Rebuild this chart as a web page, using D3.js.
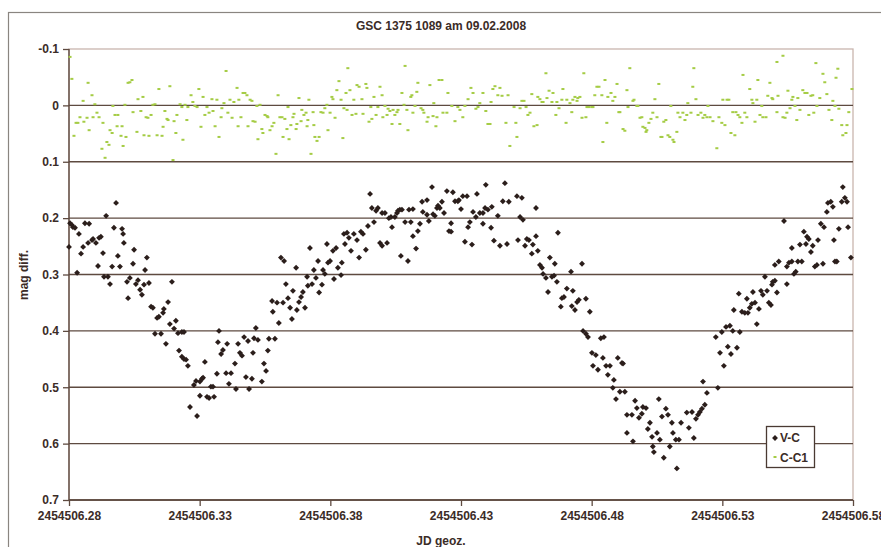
<!DOCTYPE html>
<html><head><meta charset="utf-8">
<script src="https://cdn.jsdelivr.net/npm/d3@7"></script>
<style>
html,body{margin:0;padding:0;background:#fff;}
svg{display:block;font-family:"Liberation Sans",Arial,sans-serif;}
</style></head>
<body>
<svg id="chart" width="881" height="547"></svg>
<script>
const title = "GSC 1375 1089 am 09.02.2008";
const xLabel = "JD geoz.";
const yLabel = "mag diff.";
const seriesNames = ["V-C", "C-C1"];
const jdBase = 2454506;
const xTicks = [0.28, 0.33, 0.38, 0.43, 0.48, 0.53, 0.58];
const yTicks = [-0.1, 0, 0.1, 0.2, 0.3, 0.4, 0.5, 0.6, 0.7];
const yTickLabels = ["-0.1", "0", "0.1", "0.2", "0.3", "0.4", "0.5", "0.6", "0.7"];

// V-C : JD fraction (add jdBase) and magnitude difference
const vcJD = [
0.2800,0.2804,0.2811,0.2815,0.2823,0.2831,0.2838,0.2846,0.2854,0.2861,0.2877,0.2873,0.2888,0.2892,0.2903,0.2911,0.2915,0.2922,0.2930,0.2934,
0.2949,0.2942,0.2957,0.2965,0.2972,0.2980,0.2987,0.2995,0.3003,0.3007,0.3010,0.3022,0.3026,0.3033,0.3045,0.3049,0.3056,0.3064,0.3072,0.3079,
0.3087,0.3091,0.3098,0.3106,0.3114,0.3121,0.3129,0.3137,0.3144,0.3152,0.3160,0.3163,0.3171,0.3179,0.3186,0.3194,0.3202,0.3209,0.3217,0.3221,
0.3232,0.3240,0.3232,0.3240,0.3248,0.3255,0.3263,0.3278,0.3290,0.3286,0.3301,0.3309,0.3313,0.3301,0.3320,0.3328,0.3336,0.3343,0.3351,0.3355,
0.3366,0.3370,0.3374,0.3382,0.3389,0.3401,0.3405,0.3412,0.3420,0.3435,0.3439,0.3447,0.3454,0.3462,0.3470,0.3477,0.3485,0.3489,0.3500,0.3504,
0.3508,0.3515,0.3523,0.3538,0.3546,0.3554,0.3561,0.3565,0.3588,
0.3577,0.3580,0.3596,0.3603,0.3611,0.3623,0.3619,0.3630,0.3638,0.3646,0.3653,0.3657,0.3669,0.3672,0.3680,0.3688,0.3695,0.3703,0.3711,0.3714,
0.3730,0.3722,0.3737,0.3745,0.3753,0.3757,0.3768,0.3772,0.3779,0.3787,0.3791,0.3799,0.3810,0.3814,0.3822,0.3829,0.3841,0.3844,0.3856,0.3852,
0.3864,0.3871,0.3879,0.3890,0.3902,0.3910,0.3917,0.3925,0.3936,0.3944,0.3952,0.3959,0.3967,0.3975,0.3982,0.3990,0.3998,0.3998,0.4009,0.4017,
0.4024,0.4032,0.4036,0.4047,0.4055,0.4059,0.4066,0.4074,0.4070,0.4086,0.4097,0.4101,0.4116,0.4108,0.4116,0.4128,0.4135,0.4143,0.4151,0.4154,
0.4170,0.4170,0.4177,0.4189,0.4193,0.4200,0.4208,0.4212,0.4219,0.4227,0.4235,0.4246,0.4254,0.4262,0.4262,0.4269,0.4277,0.4288,0.4292,0.4300,
0.4307,0.4323,0.4315,0.4327,0.4334,0.4342,0.4346,
0.4357,0.4361,0.4372,0.4384,0.4384,0.4395,0.4392,0.4403,0.4418,0.4415,0.4426,0.4441,0.4449,0.4460,0.4468,0.4476,0.4483,0.4514,0.4533,0.4518,
0.4526,0.4537,0.4545,0.4552,0.4560,0.4571,0.4575,0.4587,0.4587,0.4594,0.4602,0.4610,0.4614,0.4625,0.4633,0.4640,0.4648,0.4656,0.4659,0.4667,
0.4671,0.4682,0.4686,0.4694,0.4705,0.4721,0.4724,0.4728,0.4736,0.4744,0.4751,0.4763,0.4778,0.4793,0.4767,0.4778,0.4786,0.4835,0.4847,0.4801,
0.4816,0.4843,0.4900,0.4916,0.4920,0.4805,0.4824,0.4855,0.4870,0.4862,0.4885,0.4881,0.4893,0.4908,0.4927,0.4935,0.4954,0.4935,0.4958,0.4966,
0.4973,0.4981,0.4992,0.4996,0.5008,0.5015,0.5023,0.5031,0.5034,0.5038,0.5050,0.5057,0.5061,0.5069,0.5076,0.5084,0.5092,0.5099,0.5107,0.5111,
0.5122,0.5134,0.5126,0.5142,0.5164,0.5172,0.5184,0.5191,0.5199,0.5207,0.5214,0.5222,0.5226,0.5233,0.5241,
0.5283,0.5275,0.5291,0.5298,0.5306,0.5314,0.5329,0.5321,0.5333,0.5340,0.5344,0.5356,0.5363,0.5367,0.5375,0.5386,0.5394,0.5398,0.5405,0.5413,
0.5425,0.5417,0.5432,0.5440,0.5448,0.5455,0.5463,0.5471,0.5478,0.5486,0.5490,0.5493,0.5501,0.5509,0.5501,0.5516,0.5536,0.5547,0.5555,0.5566,
0.5547,0.5566,0.5574,0.5581,0.5589,0.5604,0.5597,0.5612,0.5620,0.5624,0.5631,0.5639,0.5646,0.5654,0.5662,0.5666,0.5677,0.5689,0.5685,0.5700,
0.5704,0.5715,0.5723,0.5727,0.5731,0.5738,0.5746,0.5757,0.5761,0.5769,0.5777,0.5781,0.5792
];
const vcMag = [
0.251,0.209,0.212,0.216,0.217,0.297,0.228,0.263,0.251,0.209,0.210,0.244,0.239,0.237,0.244,0.285,0.235,0.233,0.262,0.304,
0.304,0.196,0.317,0.286,0.217,0.173,0.267,0.286,0.219,0.228,0.244,0.313,0.342,0.306,0.281,0.256,0.317,0.310,0.327,0.336,
0.318,0.292,0.270,0.315,0.357,0.359,0.405,0.377,0.375,0.405,0.368,0.361,0.423,0.349,0.388,0.313,0.396,0.382,0.404,0.435,
0.402,0.402,0.446,0.450,0.451,0.462,0.535,0.496,0.551,0.489,0.490,0.485,0.483,0.515,0.455,0.517,0.519,0.499,0.499,0.517,
0.476,0.420,0.400,0.441,0.434,0.475,0.423,0.494,0.475,0.458,0.503,0.423,0.439,0.444,0.411,0.482,0.418,0.503,0.485,0.439,
0.413,0.395,0.416,0.490,0.458,0.471,0.435,0.414,0.414,
0.347,0.366,0.350,0.386,0.270,0.276,0.350,0.317,0.342,0.359,0.379,0.329,0.288,0.363,0.349,0.340,0.331,0.359,0.304,0.320,
0.317,0.253,0.292,0.306,0.276,0.332,0.318,0.292,0.299,0.246,0.279,0.276,0.258,0.308,0.253,0.288,0.301,0.279,0.246,0.228,
0.226,0.235,0.258,0.228,0.239,0.270,0.224,0.228,0.256,0.214,0.157,0.182,0.207,0.187,0.182,0.244,0.249,0.191,0.191,0.244,
0.200,0.198,0.216,0.198,0.191,0.187,0.185,0.185,0.267,0.207,0.276,0.185,0.184,0.207,0.232,0.254,0.223,0.210,0.171,0.189,
0.194,0.168,0.205,0.145,0.193,0.196,0.182,0.178,0.182,0.171,0.191,0.152,0.223,0.224,0.209,0.154,0.170,0.170,0.168,0.184,
0.161,0.161,0.242,0.216,0.207,0.247,0.189,
0.198,0.157,0.191,0.191,0.210,0.141,0.182,0.185,0.180,0.217,0.240,0.196,0.249,0.170,0.138,0.246,0.171,0.161,0.164,0.239,
0.198,0.203,0.249,0.237,0.239,0.263,0.247,0.182,0.232,0.258,0.283,0.288,0.299,0.306,0.331,0.270,0.304,0.302,0.281,0.313,
0.226,0.357,0.342,0.340,0.325,0.295,0.356,0.329,0.363,0.349,0.345,0.281,0.343,0.366,0.400,0.405,0.411,0.413,0.411,0.439,
0.443,0.448,0.448,0.457,0.458,0.462,0.469,0.462,0.462,0.478,0.487,0.501,0.521,0.508,0.508,0.549,0.549,0.581,0.596,0.524,
0.537,0.554,0.547,0.535,0.537,0.574,0.563,0.588,0.605,0.615,0.581,0.521,0.593,0.552,0.625,0.538,0.549,0.605,0.563,0.581,
0.593,0.593,0.644,0.563,0.545,0.572,0.544,0.590,0.556,0.549,0.544,0.538,0.490,0.531,0.510,
0.501,0.411,0.439,0.402,0.462,0.393,0.391,0.428,0.441,0.400,0.363,0.430,0.334,0.402,0.366,0.368,0.343,0.368,0.359,0.352,
0.350,0.331,0.388,0.361,0.329,0.336,0.304,0.329,0.350,0.354,0.318,0.313,0.311,0.332,0.283,0.277,0.205,0.286,0.279,0.277,
0.317,0.253,0.299,0.295,0.277,0.277,0.247,0.224,0.246,0.233,0.237,0.260,0.249,0.286,0.283,0.239,0.210,0.216,0.281,0.189,
0.173,0.171,0.180,0.239,0.277,0.277,0.219,0.171,0.145,0.164,0.171,0.216,0.270
];

// C-C1 : JD fraction (add jdBase) and magnitude difference
const ccJD = [
0.2804,0.2811,0.2819,0.2827,0.2834,0.2842,0.2854,0.2857,0.2869,0.2873,0.2877,0.2888,0.2892,0.2899,0.2907,0.2915,0.2926,0.2930,0.2938,0.2945,
0.2953,0.2957,0.2965,0.2968,0.2976,0.2984,0.2987,0.2999,0.3003,0.3007,0.3014,0.3018,0.3026,0.3033,0.3041,0.3045,0.3060,0.3064,0.3075,0.3083,
0.3087,0.3095,0.3102,0.3106,0.3114,0.3121,0.3129,0.3137,0.3144,0.3156,0.3160,0.3167,0.3175,0.3179,0.3186,0.3198,0.3202,0.3209,0.3213,0.3225,
0.3232,0.3236,0.3244,0.3251,0.3255,0.3267,0.3274,0.3282,0.3290,0.3297,0.3305,0.3313,0.3320,0.3328,0.3336,0.3347,0.3351,0.3359,0.3366,0.3374,
0.3382,0.3385,0.3393,0.3401,0.3408,0.3416,0.3424,0.3431,0.3443,0.3447,0.3450,0.3458,0.3466,0.3473,0.3481,0.3485,0.3493,0.3500,0.3504,0.3512,
0.3519,0.3523,0.3531,0.3538,0.3542,0.3550,0.3558,0.3561,0.3569,0.3577,0.3584,0.3592,0.3600,0.3607,0.3615,0.3619,0.3626,0.3634,0.3638,0.3642,
0.3649,0.3657,0.3661,0.3669,0.3672,0.3680,0.3688,0.3691,0.3699,0.3707,0.3711,0.3714,0.3718,0.3726,0.3734,0.3737,0.3741,0.3749,0.3757,0.3764,
0.3772,0.3779,0.3787,0.3791,0.3799,0.3806,0.3810,0.3818,0.3825,0.3833,0.3841,0.3848,0.3852,0.3860,0.3864,0.3867,0.3875,0.3883,0.3890,0.3898,
0.3902,0.3910,0.3921,0.3925,0.3936,0.3940,0.3948,0.3955,0.3959,0.3967,0.3975,0.3982,0.3990,0.3998,0.4001,0.4009,0.4017,0.4021,0.4028,0.4036,
0.4040,0.4047,0.4055,0.4059,0.4066,0.4074,0.4082,0.4086,0.4093,0.4097,0.4108,0.4112,0.4116,0.4124,0.4131,0.4135,0.4147,0.4154,0.4158,0.4170,
0.4174,0.4181,0.4193,0.4196,0.4204,0.4208,0.4216,
0.4227,0.4231,0.4246,0.4250,0.4265,0.4277,0.4288,0.4296,0.4307,0.4315,0.4327,0.4338,0.4346,0.4357,0.4365,0.4372,0.4384,0.4395,0.4403,0.4411,
0.4415,0.4422,0.4430,0.4441,0.4449,0.4457,0.4472,0.4480,0.4487,0.4503,0.4510,0.4514,0.4526,0.4533,0.4541,0.4549,0.4556,0.4564,0.4571,0.4579,
0.4591,0.4594,0.4602,0.4610,0.4614,0.4625,0.4629,0.4637,0.4648,0.4652,0.4663,0.4667,0.4675,0.4686,0.4690,0.4702,0.4705,0.4717,0.4724,0.4728,
0.4736,0.4744,0.4747,0.4755,0.4763,0.4770,0.4778,0.4782,0.4790,0.4801,0.4805,0.4812,0.4820,0.4828,0.4839,0.4843,0.4851,0.4858,0.4862,0.4874,
0.4881,0.4889,0.4897,0.4904,0.4908,0.4920,0.4927,0.4935,0.4939,0.4946,0.4958,0.4962,0.4973,0.4977,0.4985,0.4992,0.4996,0.5004,0.5008,0.5011,
0.5019,0.5027,0.5034,0.5042,0.5050,0.5057,0.5065,0.5069,0.5076,0.5084,0.5092,0.5099,0.5103,0.5111,0.5115,0.5126,0.5130,0.5138,0.5149,0.5157,
0.5164,0.5168,0.5180,0.5187,0.5191,0.5199,0.5207,0.5218,0.5226,0.5233,0.5241,0.5245,0.5253,0.5264,0.5279,0.5287,0.5298,0.5302,0.5310,0.5318,
0.5325,0.5333,0.5340,0.5348,0.5352,0.5360,0.5367,0.5375,0.5379,0.5386,0.5394,0.5405,0.5413,0.5417,0.5425,0.5432,0.5436,0.5444,0.5451,0.5455,
0.5467,0.5474,0.5482,0.5490,0.5493,0.5509,0.5513,0.5509,0.5532,0.5532,0.5540,0.5547,0.5551,0.5559,0.5566,0.5570,0.5578,0.5585,0.5589,0.5597,
0.5608,0.5616,0.5624,0.5631,0.5639,0.5646,0.5650,0.5658,0.5662,0.5673,0.5685,0.5692,0.5700,0.5708,0.5719,0.5723,0.5731,0.5735,0.5742,0.5746,
0.5757,0.5761,0.5773,0.5777,0.5784,0.5796
];
const ccMag = [
-0.086,-0.047,0.054,0.031,0.031,0.021,-0.008,0.029,0.022,-0.040,0.044,-0.018,0.021,-0.002,0.013,0.021,0.077,0.031,0.093,0.065,
0.070,0.044,0.049,0.001,0.017,0.037,0.017,0.054,0.037,0.072,-0.001,0.056,-0.040,-0.041,-0.045,0.012,0.047,-0.011,0.010,-0.015,
0.053,0.021,0.022,0.054,0.017,-0.001,-0.002,0.053,-0.029,0.054,0.038,0.010,0.024,0.026,-0.034,0.097,0.028,0.049,0.017,-0.002,
0.003,0.061,-0.001,0.026,0.003,-0.018,-0.006,0.001,0.003,-0.029,0.038,-0.015,0.017,0.003,0.013,-0.011,0.010,0.037,-0.010,0.056,
0.021,0.005,-0.004,-0.061,0.013,-0.010,0.022,-0.006,-0.031,0.037,-0.010,0.021,-0.022,-0.022,-0.018,0.037,-0.010,-0.008,0.028,0.029,
0.001,0.060,-0.001,0.042,0.049,0.017,0.019,0.021,0.044,0.037,0.031,0.086,-0.018,0.021,0.021,0.056,0.024,0.042,0.003,0.060,
0.035,0.021,0.015,0.042,0.033,-0.013,0.028,0.008,0.017,0.013,0.037,0.026,-0.010,0.086,0.012,0.035,0.056,0.063,0.056,0.012,
0.013,0.005,-0.001,0.044,0.013,-0.015,-0.011,0.022,-0.027,-0.043,-0.010,0.058,0.005,-0.022,0.008,-0.066,-0.027,0.017,-0.010,0.015,
-0.036,-0.033,-0.011,0.015,-0.038,-0.031,0.029,0.003,0.024,-0.015,0.017,0.003,-0.033,-0.018,0.021,0.001,0.017,0.006,0.010,0.033,
0.008,0.017,0.012,0.008,0.033,-0.022,-0.001,-0.070,0.008,0.044,-0.015,-0.018,0.013,0.001,-0.024,-0.040,0.005,0.008,0.013,0.029,
0.021,-0.036,0.019,-0.004,0.037,0.021,-0.045,
-0.045,0.013,0.013,-0.022,0.001,0.028,0.003,0.008,0.021,0.001,-0.011,-0.031,-0.022,0.006,0.003,-0.004,-0.022,0.010,0.033,0.033,
-0.006,-0.029,-0.034,-0.018,-0.031,-0.017,0.031,-0.018,0.072,0.003,0.031,0.056,0.005,-0.008,-0.008,0.003,0.017,0.013,-0.020,0.037,
0.035,-0.015,-0.011,-0.006,-0.006,-0.057,-0.013,-0.026,-0.006,-0.022,0.017,-0.006,0.005,-0.010,-0.029,0.031,-0.010,-0.004,0.012,-0.010,
-0.015,-0.008,-0.013,-0.015,0.022,-0.057,0.021,0.003,0.003,0.003,0.003,-0.018,-0.033,-0.033,-0.018,0.065,-0.045,0.031,-0.015,-0.022,
-0.008,-0.015,-0.038,0.012,0.012,0.042,0.045,-0.027,0.003,-0.066,-0.008,-0.010,0.001,0.001,0.022,0.021,0.038,0.040,0.047,0.044,
0.031,0.024,0.013,-0.011,0.021,-0.038,0.056,0.056,0.029,0.026,0.053,0.056,0.001,0.061,0.065,0.047,0.013,0.021,0.013,0.026,
0.017,-0.004,0.013,-0.033,-0.066,-0.011,0.017,0.013,0.022,0.017,0.021,0.001,0.021,0.028,0.076,0.021,0.031,-0.010,0.035,-0.010,
-0.010,0.049,0.012,0.053,0.012,0.017,0.021,0.031,-0.054,0.013,0.021,-0.029,-0.010,-0.004,0.029,-0.010,-0.045,0.017,0.001,0.021,
0.021,-0.017,-0.040,-0.013,-0.011,0.012,-0.017,-0.077,-0.088,0.021,0.022,0.013,-0.026,0.005,-0.010,-0.015,0.001,0.026,-0.013,0.008,
-0.027,-0.022,-0.022,0.017,-0.017,-0.018,0.013,-0.075,0.001,-0.013,-0.056,-0.041,-0.020,0.008,0.026,-0.008,0.001,-0.049,-0.065,0.006,
0.035,0.053,0.049,0.035,0.012,-0.029
];

const vcData = vcJD.map((x, i) => ({x: jdBase + x, y: vcMag[i]}));
const ccData = ccJD.map((x, i) => ({x: jdBase + x, y: ccMag[i]}));

const svg = d3.select("#chart");
const W = 881, H = 547;
const plot = {left: 69, right: 853, top: 49, bottom: 500};
const textCol = "#3b2c27";
const gridCol = "#5e4a40";

svg.append("rect").attr("width", W).attr("height", H).attr("fill", "#ffffff");
// outer chart frame
svg.append("rect").attr("x", 8.5).attr("y", 12.5).attr("width", W + 20).attr("height", H + 20)
  .attr("fill", "none").attr("stroke", "#8a8580").attr("stroke-width", 1.2);

const x = d3.scaleLinear().domain([jdBase + xTicks[0], jdBase + xTicks[xTicks.length - 1]]).range([plot.left, plot.right]);
const y = d3.scaleLinear().domain([yTicks[0], yTicks[yTicks.length - 1]]).range([plot.top, plot.bottom]);

// plot area border (light)
svg.append("rect").attr("x", plot.left).attr("y", plot.top)
  .attr("width", plot.right - plot.left).attr("height", plot.bottom - plot.top)
  .attr("fill", "none").attr("stroke", "#c9b5ae").attr("stroke-width", 1.3);

// grid lines
svg.append("g").selectAll("line").data(yTicks.slice(1)).join("line")
  .attr("x1", plot.left).attr("x2", plot.right)
  .attr("y1", d => y(d)).attr("y2", d => y(d))
  .attr("stroke", gridCol).attr("stroke-width", 1.3);

// axes
const yAxis = d3.axisLeft(y).tickValues(yTicks).tickSize(6).tickPadding(4)
  .tickFormat((d, i) => yTickLabels[i]);
const gy = svg.append("g").attr("transform", `translate(${plot.left},0)`).call(yAxis);
const xAxis = d3.axisBottom(x).tickValues(xTicks.map(t => jdBase + t)).tickSize(6).tickPadding(5)
  .tickFormat(d => d3.format(".2f")(d));
const gx = svg.append("g").attr("transform", `translate(0,${plot.bottom})`).call(xAxis);

[gx, gy].forEach(g => {
  g.select(".domain").attr("stroke", gridCol).attr("stroke-width", 1.4);
  g.selectAll(".tick line").attr("stroke", gridCol).attr("stroke-width", 1.3);
  g.selectAll(".tick text").attr("fill", textCol).attr("font-size", 12).attr("font-weight", "bold")
    .attr("font-family", "'Liberation Sans', Arial, sans-serif");
});
gy.select(".domain").attr("d", `M0,${plot.top}V${plot.bottom}`);
gx.select(".domain").attr("d", `M${plot.left},0H${plot.right}`);

// C-C1 markers (small green dashes)
svg.append("g").selectAll("rect").data(ccData).join("rect")
  .attr("x", d => x(d.x) - 1.5).attr("y", d => y(d.y) - 1)
  .attr("width", 3).attr("height", 2).attr("fill", "#a5cc45");

// V-C markers (diamonds)
const diamond = d3.symbol().type(d3.symbolDiamond2).size(22);
svg.append("g").selectAll("path").data(vcData).join("path")
  .attr("d", diamond)
  .attr("transform", d => `translate(${x(d.x)},${y(d.y)})`)
  .attr("fill", "#2b1e1b");

// title and axis labels
svg.append("text").attr("x", 441).attr("y", 30).attr("text-anchor", "middle")
  .attr("font-size", 12).attr("font-weight", "bold").attr("fill", textCol).text(title);
svg.append("text").attr("x", 441).attr("y", 545).attr("text-anchor", "middle")
  .attr("font-size", 12).attr("font-weight", "bold").attr("fill", textCol).text(xLabel);
svg.append("text").attr("transform", "translate(28,275) rotate(-90)").attr("text-anchor", "middle")
  .attr("font-size", 12).attr("font-weight", "bold").attr("fill", textCol).text(yLabel);

// legend
const lg = svg.append("g").attr("transform", "translate(766,426)");
lg.append("rect").attr("x", 0.5).attr("y", 0.5).attr("width", 48).attr("height", 41)
  .attr("fill", "#fff").attr("stroke", "#4a3a33").attr("stroke-width", 1.3);
lg.append("path").attr("d", diamond).attr("transform", "translate(9,12)").attr("fill", "#2b1e1b");
lg.append("rect").attr("x", 7.5).attr("y", 30).attr("width", 3).attr("height", 2).attr("fill", "#a5cc45");
lg.append("text").attr("x", 14).attr("y", 16).attr("font-size", 12).attr("font-weight", "bold").attr("fill", textCol).text(seriesNames[0]);
lg.append("text").attr("x", 14).attr("y", 36).attr("font-size", 12).attr("font-weight", "bold").attr("fill", textCol).text(seriesNames[1]);
</script>
</body></html>
